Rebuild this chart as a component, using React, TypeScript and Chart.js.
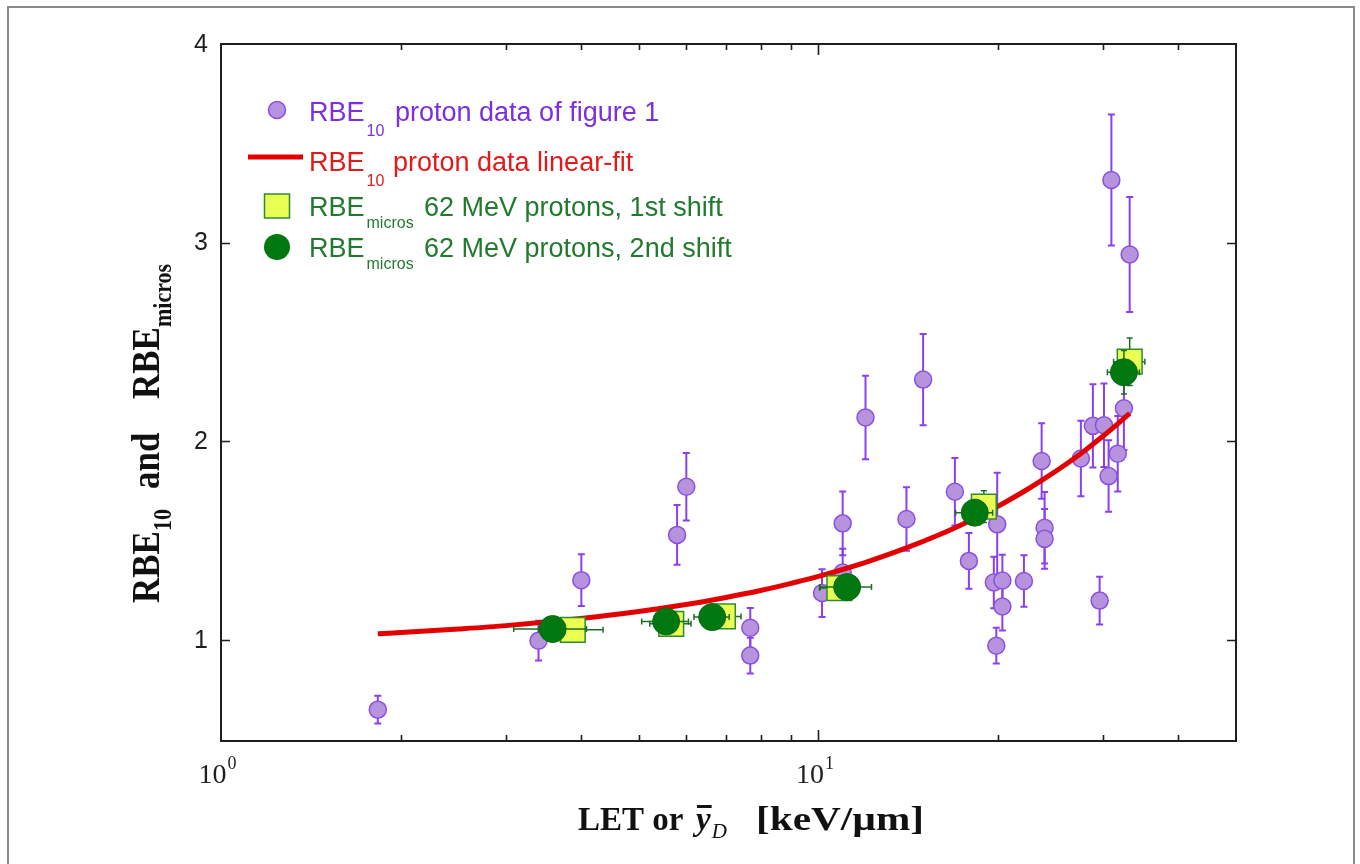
import React, { useEffect, useRef } from "react";
import { Chart, registerables } from "chart.js";

Chart.register(...registerables);

// ---- Data ----
// RBE10 proton data of figure 1 (LET in keV/µm, RBE10, ± error)
const rbe10Let = [1.83, 3.40, 4.01, 5.80, 6.01, 7.69, 7.69, 10.14, 10.98, 10.98, 11.99, 14.04, 14.97, 16.92, 17.86, 19.92, 19.66, 20.32, 20.32, 19.85, 22.08, 23.64, 23.91, 23.91, 27.5, 28.8, 30.06, 29.56, 30.6, 31.7, 30.93, 33.19, 32.46];
const rbe10Value = [0.648, 0.995, 1.30, 1.528, 1.77, 1.06, 0.92, 1.235, 1.586, 1.338, 2.119, 1.608, 2.31, 1.745, 1.397, 1.581, 1.288, 1.298, 1.167, 0.97, 1.296, 1.90, 1.564, 1.508, 1.913, 2.077, 2.08, 1.197, 1.824, 1.937, 3.315, 2.94, 2.166];
const rbe10Err = [0.07, 0.10, 0.13, 0.15, 0.17, 0.10, 0.09, 0.12, 0.16, 0.12, 0.21, 0.16, 0.23, 0.17, 0.14, 0.26, 0.13, 0.13, 0.12, 0.09, 0.13, 0.19, 0.18, 0.15, 0.19, 0.21, 0.21, 0.12, 0.18, 0.19, 0.33, 0.29, 0.21];

// RBE10 proton data linear-fit
const fitLet = [1.83, 2, 2.5, 3, 4, 5, 6, 7, 8, 9, 10, 12, 14, 16, 18, 20, 22, 24, 26, 28, 30, 32, 33.2];
const fitValue = [1.030, 1.036, 1.054, 1.071, 1.107, 1.142, 1.177, 1.213, 1.248, 1.284, 1.319, 1.390, 1.461, 1.531, 1.602, 1.673, 1.744, 1.815, 1.885, 1.956, 2.027, 2.098, 2.140];

// RBEmicros 62 MeV protons, 1st shift
const shift1Y = [3.88, 5.67, 6.92, 10.84, 18.92, 33.19];
const shift1Value = [1.05, 1.08, 1.117, 1.26, 1.67, 2.40];
const shift1YErr = [0.48, 0.45, 0.50, 0.80, 1.00, 2.00];
const shift1ValueErr = [0.03, 0.03, 0.03, 0.04, 0.08, 0.12];

// RBEmicros 62 MeV protons, 2nd shift
const shift2Y = [3.59, 5.56, 6.64, 11.17, 18.27, 32.46];
const shift2Value = [1.054, 1.092, 1.114, 1.265, 1.64, 2.347];
const shift2YErr = [0.50, 0.50, 0.45, 1.10, 1.30, 2.00];
const shift2ValueErr = [0.02, 0.03, 0.03, 0.03, 0.06, 0.11];

// Axes
const xMin = 1;
const xMax = 50;
const yMin = 0.49;
const yMax = 4;
const yTickValues = [1, 2, 3, 4];
const yTickLabels = ["1", "2", "3", "4"];
const xMajorTicks = [1, 10];
const xMajorBase = ["10", "10"];
const xMajorExp = ["0", "1"];
const xMinorTicks = [2, 3, 4, 5, 6, 7, 8, 9, 20, 30, 40];

const SANS = '"Liberation Sans", Arial, Helvetica, sans-serif';
const SERIF = '"Liberation Serif", "Times New Roman", Times, serif';

const PURPLE_FILL = "#b793dd";
const PURPLE_EDGE = "#8a4fe2";
const PURPLE_BAR = "#8b3ff0";
const RED = "#e30000";
const YELLOW = "#e9ff52";
const SQUARE_EDGE = "#2f8a30";
const DARK_GREEN = "#00780f";
const GREEN_BAR = "#1d6e22";

const errorBarPlugin = {
  id: "errorBars",
  beforeDatasetDraw(chart: any, args: any) {
    const ds: any = chart.data.datasets[args.index];
    if (!ds.errorBarColor) return;
    const ctx = chart.ctx;
    const xs = chart.scales.x;
    const ys = chart.scales.y;
    const cap = ds.errorCap || 4;
    ctx.save();
    ctx.strokeStyle = ds.errorBarColor;
    ctx.lineWidth = ds.errorBarWidth || 1.5;
    ds.data.forEach((p: any) => {
      const px = xs.getPixelForValue(p.x);
      const py = ys.getPixelForValue(p.y);
      ctx.beginPath();
      if (p.yErr) {
        const t = ys.getPixelForValue(p.y + p.yErr);
        const b = ys.getPixelForValue(p.y - p.yErr);
        ctx.moveTo(px, t);
        ctx.lineTo(px, b);
        ctx.moveTo(px - cap, t);
        ctx.lineTo(px + cap, t);
        ctx.moveTo(px - cap, b);
        ctx.lineTo(px + cap, b);
      }
      if (p.xErr) {
        const l = xs.getPixelForValue(p.x - p.xErr);
        const r = xs.getPixelForValue(p.x + p.xErr);
        ctx.moveTo(l, py);
        ctx.lineTo(r, py);
        ctx.moveTo(l, py - cap);
        ctx.lineTo(l, py + cap);
        ctx.moveTo(r, py - cap);
        ctx.lineTo(r, py + cap);
      }
      ctx.stroke();
    });
    ctx.restore();
  },
};

function drawRuns(ctx: any, x: number, y: number, runs: any[]) {
  let cx = x;
  runs.forEach((r) => {
    if (r.at !== undefined) cx = x + r.at;
    ctx.font = r.font;
    ctx.fillText(r.text, cx, y + (r.dy || 0));
    cx += ctx.measureText(r.text).width + (r.gap || 0);
  });
}

const framePlugin = {
  id: "frame",
  afterDraw(chart: any) {
    const ctx = chart.ctx;
    const a = chart.chartArea;
    const xs = chart.scales.x;
    const ys = chart.scales.y;
    ctx.save();

    // outer figure border
    ctx.strokeStyle = "#8a8a8a";
    ctx.lineWidth = 2;
    ctx.strokeRect(8, 7, 1346, 880);

    // plot box
    ctx.strokeStyle = "#1e1e1e";
    ctx.lineWidth = 2;
    ctx.strokeRect(a.left, a.top, a.right - a.left, a.bottom - a.top);

    // ticks (inward)
    ctx.lineWidth = 1.6;
    ctx.beginPath();
    yTickValues.forEach((v) => {
      if (v >= yMax) return;
      const py = Math.round(ys.getPixelForValue(v)) + 0.5;
      ctx.moveTo(a.left, py);
      ctx.lineTo(a.left + 9, py);
      ctx.moveTo(a.right, py);
      ctx.lineTo(a.right - 9, py);
    });
    xMinorTicks.forEach((v) => {
      const px = Math.round(xs.getPixelForValue(v)) + 0.5;
      ctx.moveTo(px, a.bottom);
      ctx.lineTo(px, a.bottom - 6);
      ctx.moveTo(px, a.top);
      ctx.lineTo(px, a.top + 6);
    });
    xMajorTicks.forEach((v) => {
      if (v <= xMin) return;
      const px = Math.round(xs.getPixelForValue(v)) + 0.5;
      ctx.moveTo(px, a.bottom);
      ctx.lineTo(px, a.bottom - 11);
      ctx.moveTo(px, a.top);
      ctx.lineTo(px, a.top + 11);
    });
    ctx.stroke();

    // y tick labels
    ctx.fillStyle = "#1e1e1e";
    ctx.font = `25px ${SANS}`;
    ctx.textAlign = "right";
    ctx.textBaseline = "middle";
    yTickValues.forEach((v, i) => {
      ctx.fillText(yTickLabels[i], a.left - 13, ys.getPixelForValue(v) + 1);
    });

    // x tick labels 10^n
    ctx.textAlign = "left";
    ctx.textBaseline = "alphabetic";
    xMajorTicks.forEach((v, i) => {
      const px = xs.getPixelForValue(v);
      ctx.font = `28px ${SERIF}`;
      const wb = ctx.measureText(xMajorBase[i]).width;
      ctx.font = `18px ${SERIF}`;
      const we = ctx.measureText(xMajorExp[i]).width;
      const x0 = px - (wb + we) / 2 - 4;
      ctx.font = `28px ${SERIF}`;
      ctx.fillText(xMajorBase[i], x0, 783);
      ctx.font = `18px ${SERIF}`;
      ctx.fillText(xMajorExp[i], x0 + wb + 1, 769);
    });

    // x axis title: LET or ȳ_D [keV/µm]
    ctx.fillStyle = "#111";
    ctx.font = `bold 33px ${SERIF}`;
    ctx.fillText("LET or", 578, 830);
    ctx.font = `italic bold 33px ${SERIF}`;
    ctx.fillText("y", 696, 830);
    const wy = ctx.measureText("y").width;
    ctx.fillRect(697, 805, wy, 3);
    ctx.font = `italic 21px ${SERIF}`;
    ctx.fillText("D", 696 + wy + 1, 838);
    ctx.font = `bold 33px ${SERIF}`;
    const unit = "[keV/\u00b5m]";
    const wu = ctx.measureText(unit).width;
    ctx.save();
    ctx.translate(756, 830);
    ctx.scale(168 / wu, 1);
    ctx.fillText(unit, 0, 0);
    ctx.restore();

    // y axis title: RBE_10 and RBE_micros (rotated)
    ctx.save();
    ctx.translate(159, 603);
    ctx.scale(1.15, 1);
    ctx.rotate(-Math.PI / 2);
    drawRuns(ctx, 0, 0, [
      { text: "RBE", font: `bold 35px ${SERIF}` },
      { text: "10", font: `bold 22px ${SERIF}`, dy: 10 },
      { text: "and", font: `bold 35px ${SERIF}`, at: 114 },
      { text: "RBE", font: `bold 35px ${SERIF}`, at: 204 },
      { text: "micros", font: `bold 22px ${SERIF}`, dy: 10 },
    ]);
    ctx.restore();

    // legend
    const lx = 309;
    const LF = `27px ${SANS}`;
    const SF = `16px ${SANS}`;
    // 1: purple circle
    ctx.fillStyle = PURPLE_FILL;
    ctx.strokeStyle = PURPLE_EDGE;
    ctx.lineWidth = 1.5;
    ctx.beginPath();
    ctx.arc(277, 110, 8.5, 0, Math.PI * 2);
    ctx.fill();
    ctx.stroke();
    ctx.fillStyle = "#7b2fe0";
    drawRuns(ctx, lx, 121, [
      { text: "RBE", font: LF, gap: 2 },
      { text: "10", font: SF, dy: 15 },
      { text: "proton data of figure 1", font: LF, at: 86 },
    ]);
    // 2: red line
    ctx.strokeStyle = RED;
    ctx.lineWidth = 5;
    ctx.beginPath();
    ctx.moveTo(248, 157);
    ctx.lineTo(303, 157);
    ctx.stroke();
    ctx.fillStyle = "#e21a1a";
    drawRuns(ctx, lx, 171, [
      { text: "RBE", font: LF, gap: 2 },
      { text: "10", font: SF, dy: 15 },
      { text: "proton data linear-fit", font: LF, at: 84 },
    ]);
    // 3: yellow square
    ctx.fillStyle = YELLOW;
    ctx.strokeStyle = SQUARE_EDGE;
    ctx.lineWidth = 1.5;
    ctx.fillRect(264.5, 194, 25, 24);
    ctx.strokeRect(264.5, 194, 25, 24);
    ctx.fillStyle = "#217a2d";
    drawRuns(ctx, lx, 216, [
      { text: "RBE", font: LF, gap: 2 },
      { text: "micros", font: SF, dy: 12 },
      { text: "62 MeV protons, 1st shift", font: LF, at: 115 },
    ]);
    // 4: green circle
    ctx.fillStyle = DARK_GREEN;
    ctx.beginPath();
    ctx.arc(277, 247, 13, 0, Math.PI * 2);
    ctx.fill();
    ctx.fillStyle = "#217a2d";
    drawRuns(ctx, lx, 257, [
      { text: "RBE", font: LF, gap: 2 },
      { text: "micros", font: SF, dy: 12 },
      { text: "62 MeV protons, 2nd shift", font: LF, at: 115 },
    ]);

    ctx.restore();
  },
};

export default function App() {
  const canvasRef = useRef<HTMLCanvasElement | null>(null);

  useEffect(() => {
    const canvas = canvasRef.current;
    if (!canvas) return;

    const rbe10Points = rbe10Let.map((x, i) => ({ x, y: rbe10Value[i], yErr: rbe10Err[i] }));
    const fitPoints = fitLet.map((x, i) => ({ x, y: fitValue[i] }));
    const shift1Points = shift1Y.map((x, i) => ({ x, y: shift1Value[i], xErr: shift1YErr[i], yErr: shift1ValueErr[i] }));
    const shift2Points = shift2Y.map((x, i) => ({ x, y: shift2Value[i], xErr: shift2YErr[i], yErr: shift2ValueErr[i] }));

    const chart = new Chart(canvas, {
      type: "scatter",
      data: {
        datasets: [
          {
            label: "RBE10 proton data of figure 1",
            data: rbe10Points,
            pointStyle: "circle",
            pointRadius: 8.5,
            pointBackgroundColor: PURPLE_FILL,
            pointBorderColor: PURPLE_EDGE,
            pointBorderWidth: 1.5,
            order: 4,
            errorBarColor: PURPLE_BAR,
            errorBarWidth: 2,
            errorCap: 3.5,
          } as any,
          {
            label: "RBE10 proton data linear-fit",
            data: fitPoints,
            showLine: true,
            borderColor: RED,
            borderWidth: 5,
            pointRadius: 0,
            tension: 0.3,
            order: 3,
          } as any,
          {
            label: "RBEmicros 62 MeV protons, 1st shift",
            data: shift1Points,
            pointStyle: "rect",
            pointRadius: 17.5,
            pointBackgroundColor: YELLOW,
            pointBorderColor: SQUARE_EDGE,
            pointBorderWidth: 1.5,
            order: 2,
            errorBarColor: GREEN_BAR,
            errorBarWidth: 1.5,
            errorCap: 3,
          } as any,
          {
            label: "RBEmicros 62 MeV protons, 2nd shift",
            data: shift2Points,
            pointStyle: "circle",
            pointRadius: 13.5,
            pointBackgroundColor: DARK_GREEN,
            pointBorderColor: "#0b6a14",
            pointBorderWidth: 1,
            order: 1,
            errorBarColor: GREEN_BAR,
            errorBarWidth: 1.5,
            errorCap: 3,
          } as any,
        ],
      },
      options: {
        responsive: false,
        animation: false,
        devicePixelRatio: 1,
        layout: { padding: { left: 221, right: 124, top: 44, bottom: 123 } },
        plugins: {
          legend: { display: false },
          tooltip: { enabled: false },
          title: { display: false },
        },
        events: [],
        scales: {
          x: { type: "logarithmic", min: xMin, max: xMax, display: false },
          y: { type: "linear", min: yMin, max: yMax, display: false },
        },
      },
      plugins: [errorBarPlugin, framePlugin],
    });

    return () => chart.destroy();
  }, []);

  return (
    <div style={{ position: "fixed", left: 0, top: 0, width: 1360, height: 864, background: "#fff" }}>
      <canvas ref={canvasRef} width={1360} height={864} style={{ display: "block" }} />
    </div>
  );
}
